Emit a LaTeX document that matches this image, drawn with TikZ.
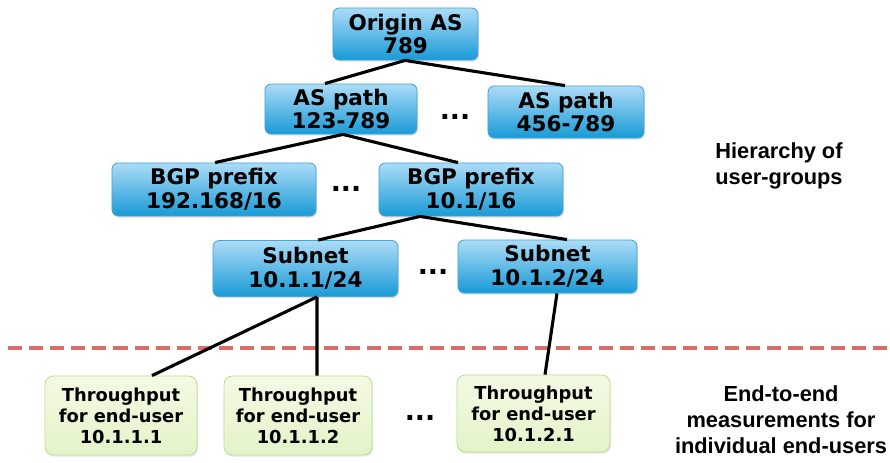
\documentclass[tikz,border=0pt]{standalone}
\usepackage{fontspec}
\setmainfont{DejaVu Sans}
\newfontfamily\labfont{Liberation Sans}
\usetikzlibrary{calc,shadows}
\definecolor{bluetop}{RGB}{172,220,247}
\definecolor{bluebot}{RGB}{24,154,214}
\definecolor{blueedge}{RGB}{70,165,215}
\definecolor{greentop}{RGB}{243,250,228}
\definecolor{greenbot}{RGB}{228,243,200}
\definecolor{greenedge}{RGB}{190,222,145}
\definecolor{dashred}{RGB}{216,110,105}
\begin{document}
\begin{tikzpicture}[x=0.025cm,y=-0.025cm,
  bluebox/.style={draw=blueedge, line width=0.6pt, rounded corners=4.5pt,
    top color=bluetop, bottom color=bluebot, align=center, inner sep=0pt,
    font=\bfseries\fontsize{15.3}{17}\selectfont,
    drop shadow={shadow xshift=0.6pt, shadow yshift=-1.2pt, opacity=0.25}},
  greenbox/.style={draw=greenedge, line width=0.6pt, rounded corners=6pt,
    top color=greentop, bottom color=greenbot, align=center, inner sep=0pt,
    font=\bfseries\fontsize{12.7}{15}\selectfont,
    drop shadow={shadow xshift=0.6pt, shadow yshift=-1.2pt, opacity=0.2}},
  conn/.style={line width=2.2pt, black},
  dotsnode/.style={font=\bfseries\fontsize{19}{20}\selectfont, inner sep=0pt},
  sidelabel/.style={font=\labfont\bfseries\fontsize{15.5}{18.5}\selectfont, align=center, inner sep=0pt}
]
\useasboundingbox (0,0) rectangle (890,462);

% blue hierarchy boxes
\node[bluebox, minimum width=3.625cm, minimum height=1.3cm] (o) at (405.5,34) {Origin AS\\789};
\node[bluebox, minimum width=3.8cm, minimum height=1.25cm] (a1) at (341,109) {AS path\\123-789};
\node[bluebox, minimum width=3.9cm, minimum height=1.3cm] (a2) at (566,112) {AS path\\456-789};
\node[bluebox, minimum width=5.1cm, minimum height=1.325cm] (b1) at (214,189.5) {BGP prefix\\192.168/16};
\node[bluebox, minimum width=4.6cm, minimum height=1.325cm] (b2) at (471,189.5) {BGP prefix\\10.1/16};
\node[bluebox, minimum width=4.625cm, minimum height=1.4cm] (s1) at (305.5,268.5) {Subnet\\10.1.1/24};
\node[bluebox, minimum width=4.475cm, minimum height=1.325cm] (s2) at (547.5,266.5) {Subnet\\10.1.2/24};

% green measurement boxes
\node[greenbox, minimum width=3.8cm, minimum height=1.975cm] (t1) at (121,415.5) {Throughput\\for end-user\\10.1.1.1};
\node[greenbox, minimum width=3.7cm, minimum height=1.975cm] (t2) at (298,415.5) {Throughput\\for end-user\\10.1.1.2};
\node[greenbox, minimum width=3.825cm, minimum height=1.925cm] (t3) at (533.5,413.5) {Throughput\\for end-user\\10.1.2.1};

% ellipses
\node[dotsnode] (d1) at (455,117) {...};
\node[dotsnode] (d2) at (346,189) {...};
\node[dotsnode] (d3) at (433,272) {...};
\node[dotsnode] (d4) at (420,418) {...};

% side labels
\node[sidelabel] (h) at (779,166) {Hierarchy of\\user-groups};
\node[sidelabel] (m) at (781,420) {End-to-end\\measurements for\\individual end-users};

% dashed separator
\coordinate (dl) at (8,348);
\coordinate (dr) at (890,348);
\draw[dashred, line width=2.8pt, dash pattern=on 10pt off 5pt] (dl) -- (dr);

% connectors
\draw[conn] ($(o.south)+(-0.5,0)$) -- ($(a1.north)+(-16,0)$);
\draw[conn] ($(o.south)+(-0.5,0)$) -- ($(a2.north)+(-1,0)$);
\draw[conn] ($(a1.south)+(2,0)$) -- ($(b1.north)+(1,0)$);
\draw[conn] ($(a1.south)+(2,0)$) -- ($(b2.north)+(-13,0)$);
\draw[conn] ($(b2.south)+(-51,0)$) -- ($(s1.north)+(12.5,0)$);
\draw[conn] ($(b2.south)+(-51,0)$) -- ($(s2.north)+(19.5,0)$);
\draw[conn] ($(s1.south)+(11.5,0)$) -- ($(t1.north)+(31,0)$);
\draw[conn] ($(s1.south)+(11.5,0)$) -- ($(t2.north)+(19,0)$);
\draw[conn] ($(s2.south)+(9.5,0)$) -- ($(t3.north)+(11.5,0)$);
\end{tikzpicture}
\end{document}
